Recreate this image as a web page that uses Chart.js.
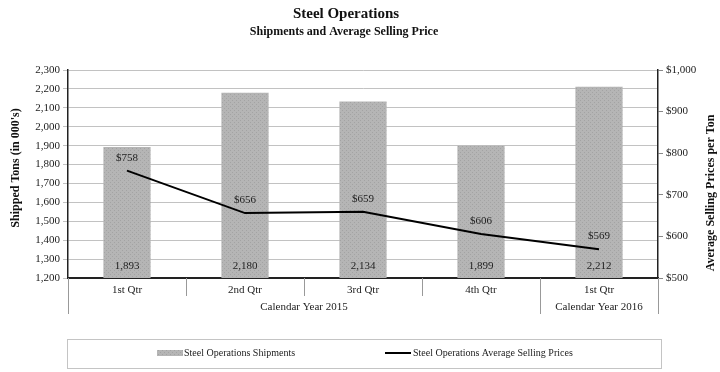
<!DOCTYPE html>
<html lang="en">
<head>
<meta charset="UTF-8">
<title>Steel Operations</title>
<script src="https://cdn.jsdelivr.net/npm/chart.js"></script>
<style>
    html, body { margin: 0; padding: 0; background: #ffffff; }
    .janela { width: 720px; height: 372px; position: relative; }
</style>
</head>
<body>
<div class="janela">
    <canvas id="grafico" width="720" height="372"></canvas>
</div>

<script>
    // dados do grafico
    var trimestres = ['1st Qtr', '2nd Qtr', '3rd Qtr', '4th Qtr', '1st Qtr'];
    var anos = ['Calendar Year 2015', 'Calendar Year 2016'];
    var anoInicio = [0, 4];   // indice da primeira categoria de cada ano
    var anoFim = [3, 4];      // indice da ultima categoria de cada ano
    var embarques = [1893, 2180, 2134, 1899, 2212];
    var precos = [758, 656, 659, 606, 569];
    var ticksToneladas = [1200, 2300, 100];  // min, max, passo
    var ticksPreco = [500, 1000, 100];

    var fonte = '"Liberation Serif", "Times New Roman", serif';

    // textura pontilhada das barras
    var pc = document.createElement('canvas');
    pc.width = 4; pc.height = 4;
    var pctx = pc.getContext('2d');
    pctx.fillStyle = '#b5b5b5';
    pctx.fillRect(0, 0, 4, 4);
    pctx.fillStyle = '#a3a3a3';
    pctx.fillRect(0, 0, 1, 1);
    pctx.fillRect(2, 2, 1, 1);
    var corBarra = document.getElementById('grafico').getContext('2d').createPattern(pc, 'repeat');

    function milhar(v) {
        return v.toString().replace(/\B(?=(\d{3})+(?!\d))/g, ',');
    }

    var extras = {
        id: 'extras',
        afterDatasetsDraw: function (chart) {
            var ctx = chart.ctx;
            var area = chart.chartArea;
            var x = chart.scales.x;
            ctx.save();

            // rotulos das barras e da linha
            ctx.fillStyle = '#222';
            ctx.font = '11px ' + fonte;
            ctx.textAlign = 'center';
            ctx.textBaseline = 'middle';
            var barras = chart.getDatasetMeta(0).data;
            barras.forEach(function (b, i) {
                ctx.fillText(milhar(embarques[i]), b.x, area.bottom - 12);
            });
            var pontos = chart.getDatasetMeta(1).data;
            pontos.forEach(function (p, i) {
                ctx.fillText('$' + precos[i], p.x, p.y - 13);
            });

            // separadores do eixo x
            var largura = (x.getPixelForValue(1) - x.getPixelForValue(0));
            ctx.strokeStyle = '#999';
            ctx.lineWidth = 1;
            for (var i = 0; i <= trimestres.length; i++) {
                var px = Math.round(x.getPixelForValue(i) - largura / 2) + 0.5;
                var fimAno = (i === 0 || i === trimestres.length || anoInicio.indexOf(i) >= 0);
                ctx.beginPath();
                ctx.moveTo(px, area.bottom);
                ctx.lineTo(px, area.bottom + (fimAno ? 36 : 18));
                ctx.stroke();
            }

            // linha dos anos
            ctx.fillStyle = '#222';
            ctx.font = '11px ' + fonte;
            anos.forEach(function (a, k) {
                var cx = (x.getPixelForValue(anoInicio[k]) + x.getPixelForValue(anoFim[k])) / 2;
                ctx.fillText(a, cx, area.bottom + 29);
            });

            // titulos
            ctx.fillStyle = '#111';
            ctx.font = 'bold 15px ' + fonte;
            ctx.fillText('Steel Operations', 346, 14);
            ctx.font = 'bold 12px ' + fonte;
            ctx.fillText('Shipments and Average Selling Price', 344, 32);

            // titulos dos eixos
            ctx.font = 'bold 12px ' + fonte;
            ctx.save();
            ctx.translate(16, 168);
            ctx.rotate(-Math.PI / 2);
            ctx.fillText("Shipped Tons (in 000's)", 0, 0);
            ctx.restore();
            ctx.save();
            ctx.translate(711, 193);
            ctx.rotate(-Math.PI / 2);
            ctx.fillText('Average Selling Prices per Ton', 0, 0);
            ctx.restore();

            // legenda
            ctx.strokeStyle = '#c4c4c4';
            ctx.strokeRect(67.5, 339.5, 594, 29);
            ctx.fillStyle = corBarra;
            ctx.fillRect(157, 350, 26, 6);
            ctx.strokeStyle = '#000';
            ctx.lineWidth = 2;
            ctx.beginPath();
            ctx.moveTo(385, 353);
            ctx.lineTo(411, 353);
            ctx.stroke();
            ctx.fillStyle = '#222';
            ctx.font = '10px ' + fonte;
            ctx.textAlign = 'left';
            ctx.fillText(chart.data.datasets[0].label, 184, 353);
            ctx.fillText(chart.data.datasets[1].label, 413, 353);

            ctx.restore();
        }
    };

    var config = {
        type: 'bar',
        data: {
            labels: trimestres,
            datasets: [{
                type: 'bar',
                label: 'Steel Operations Shipments',
                data: embarques,
                backgroundColor: corBarra,
                categoryPercentage: 1,
                barPercentage: 0.4,
                yAxisID: 'y',
                order: 1
            }, {
                type: 'line',
                label: 'Steel Operations Average Selling Prices',
                data: precos,
                borderColor: '#000',
                borderWidth: 2,
                pointRadius: 0,
                tension: 0,
                yAxisID: 'y1',
                order: 0
            }]
        },
        options: {
            responsive: false,
            animation: false,
            layout: { padding: { top: 70, left: 0, right: 0, bottom: 0 } },
            plugins: {
                legend: { display: false },
                tooltip: { enabled: false }
            },
            scales: {
                x: {
                    grid: { display: false, drawTicks: false, tickLength: 0 },
                    border: { display: true, color: '#222', width: 2 },
                    ticks: {
                        color: '#222',
                        font: { family: fonte, size: 11 },
                        padding: 6,
                        maxRotation: 0
                    },
                    afterFit: function (s) { s.height = 94; }
                },
                y: {
                    position: 'left',
                    min: ticksToneladas[0],
                    max: ticksToneladas[1],
                    grid: { color: '#c2c2c2', tickLength: 5 },
                    border: { color: '#222', width: 1.5 },
                    ticks: {
                        stepSize: ticksToneladas[2],
                        color: '#222',
                        padding: 3,
                        font: { family: fonte, size: 11 },
                        callback: function (v) { return milhar(v); }
                    },
                    afterFit: function (s) { s.width = 68; }
                },
                y1: {
                    position: 'right',
                    min: ticksPreco[0],
                    max: ticksPreco[1],
                    grid: { drawOnChartArea: false, color: '#888', tickLength: 5 },
                    border: { color: '#222', width: 1.5 },
                    ticks: {
                        stepSize: ticksPreco[2],
                        color: '#222',
                        padding: 3,
                        font: { family: fonte, size: 11 },
                        callback: function (v) { return '$' + milhar(v); }
                    },
                    afterFit: function (s) { s.width = 62; }
                }
            }
        },
        plugins: [extras]
    };

    var grafico = new Chart(document.getElementById('grafico'), config);
</script>
</body>
</html>
